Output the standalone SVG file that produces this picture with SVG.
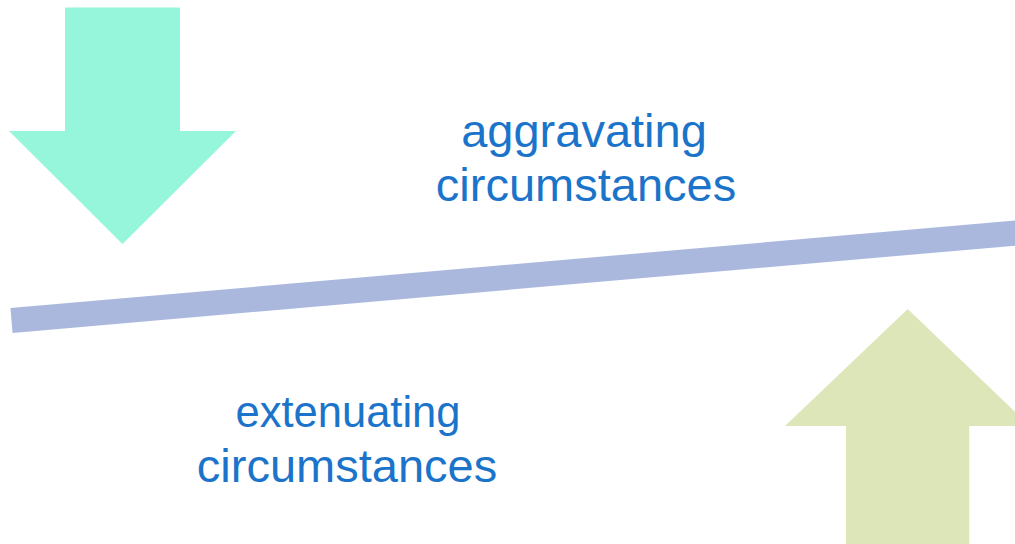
<svg xmlns="http://www.w3.org/2000/svg" width="1015" height="544" viewBox="0 0 1015 544">
<style>
.lbl{font-family:"Liberation Sans",Arial,sans-serif;font-size:47px;fill:#1B74CA;text-anchor:middle}
</style>
<rect width="1015" height="544" fill="#FFFFFF"/>
<g id="arrow-down">
<polygon points="65,7.5 180,7.5 180,131 236,131 122.5,244 9,131 65,131" fill="#96F6DB"/>
</g>
<g id="arrow-up">
<polygon points="907.7,309 1030,426 969.3,426 969.3,560 846,560 846,426 785,426" fill="#DCE6B9"/>
</g>
<g id="connectors">
<line x1="11.5" y1="320.5" x2="1030" y2="231.8" stroke="#AAB8DE" stroke-width="25"/>
</g>
<g id="label-aggravating">
<text class="lbl" x="584" y="147">aggravating</text>
<text class="lbl" x="586" y="201">circumstances</text>
</g>
<g id="label-extenuating">
<text class="lbl" x="348" y="427" style="font-size:43.5px">extenuating</text>
<text class="lbl" x="347" y="482">circumstances</text>
</g>
</svg>
